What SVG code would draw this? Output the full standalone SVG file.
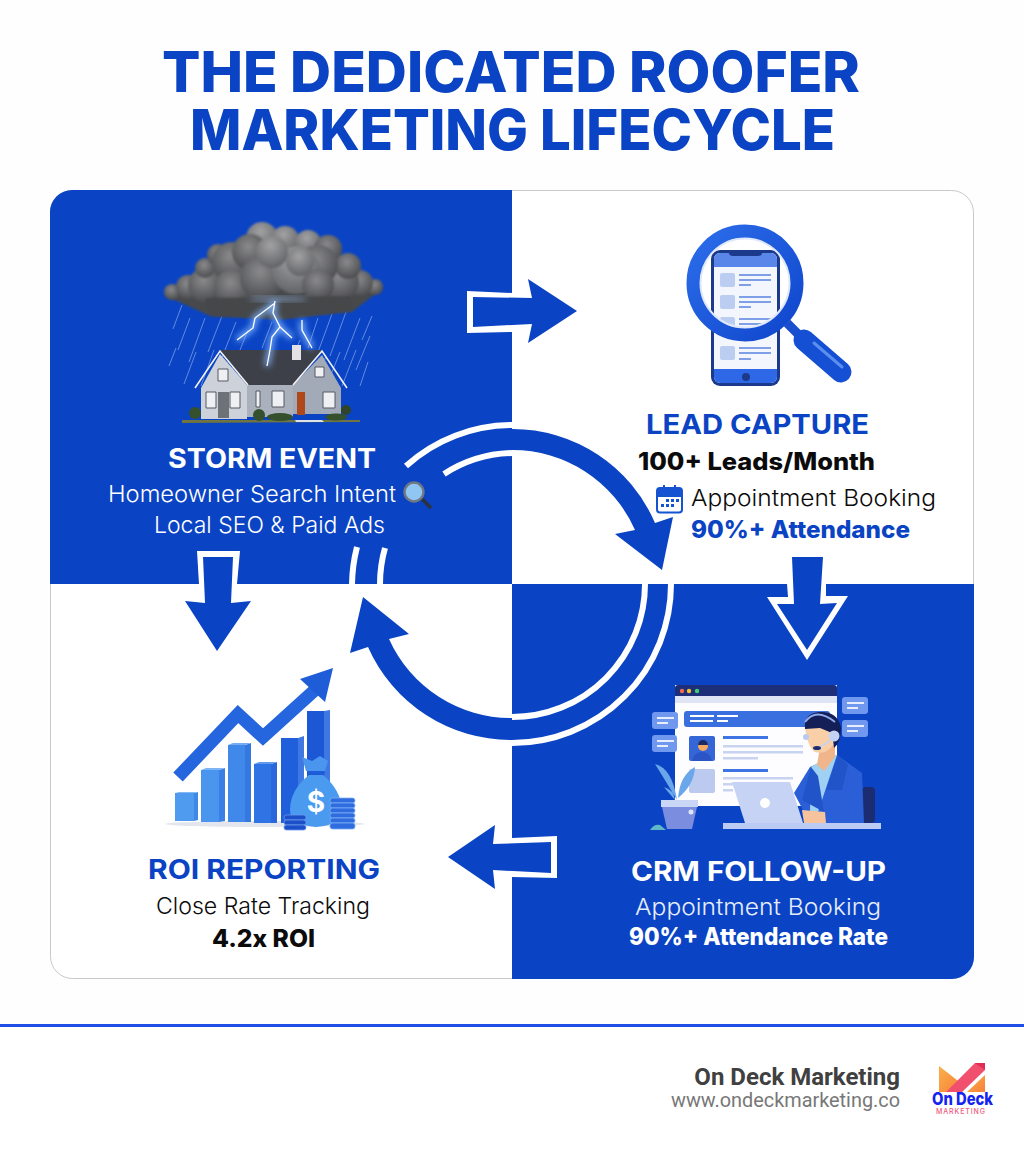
<svg xmlns="http://www.w3.org/2000/svg" width="1024" height="1154" viewBox="0 0 1024 1154">
<style>
text{font-family:"Inter","Liberation Sans",sans-serif}
.b{fill:#0a44c4}.w{fill:#fff}.k{fill:#0b0b0b}
.t{font-size:57px;font-weight:800;fill:#0a44c4}
.h{font-size:27px;font-weight:700}
.s{font-size:23px;font-weight:300}
.v{font-size:24px;font-weight:800}
.ol{fill:none;stroke:#fff;stroke-width:6}
.ft{font-family:"Roboto","Liberation Sans",sans-serif}
</style>
<defs>
<radialGradient id="puff" cx="45%" cy="35%" r="65%"><stop offset="0" stop-color="#8a8a8c"/><stop offset="1" stop-color="#4c4d50"/></radialGradient>
<radialGradient id="puffL" cx="45%" cy="30%" r="70%"><stop offset="0" stop-color="#a2a2a4"/><stop offset="1" stop-color="#626366"/></radialGradient>
<linearGradient id="ring" x1="0" y1="0" x2="1" y2="1"><stop offset="0" stop-color="#2c6dea"/><stop offset="1" stop-color="#0f46cc"/></linearGradient>
<linearGradient id="lg" x1="0" y1="0" x2="1" y2="1"><stop offset="0" stop-color="#f9b14a"/><stop offset="1" stop-color="#f7803a"/></linearGradient>
<filter id="soft" x="-10%" y="-10%" width="120%" height="120%"><feGaussianBlur stdDeviation="1"/></filter>
<filter id="glow" x="-40%" y="-40%" width="180%" height="180%"><feGaussianBlur stdDeviation="3"/></filter>
</defs>
<rect width="1024" height="1154" fill="#fefefe"/>
<g id="title">
<text class="t"><tspan x="162" y="92" textLength="698" lengthAdjust="spacingAndGlyphs">THE DEDICATED ROOFER</tspan><tspan x="190" y="150" textLength="645" lengthAdjust="spacingAndGlyphs">MARKETING LIFECYCLE</tspan></text>
</g>
<g id="panel">
<rect x="50.5" y="190.5" width="923" height="788" rx="22" fill="#fff" stroke="#c9c9c9"/>
<path class="b" d="M50,584V212A22 22 0 0 1 72,190H512V584Z"/>
<path class="b" d="M512,584H974V957A22 22 0 0 1 952,979H512Z"/>
</g>
<g id="connectors">
<path class="w" d="M467,291L512,293V332L467,333Z"/>
<path class="b" d="M473,297L532,298L528,279L577,311L528,343L532,324L473,327Z"/>
<path class="w" d="M787,584L788,597L767,597L807,660L848,596L826,596L826,584Z"/>
<path class="b" d="M792,557H823L820,604L837,603L807,650L777,604L794,604Z"/>
<path class="w" d="M197,551H240L237,584H199Z"/>
<path class="b" d="M203,557H233L231,603L251,601L217,651L185,601L205,603Z"/>
<path class="w" d="M557,836L512,838V877L557,878Z"/>
<path class="b" d="M551,842L493,844L495,825L448,857L495,889L493,870L551,873Z"/>
<path class="ol" d="M406,466A159 159 0 0 1 512,425"/>
<path class="ol" d="M444,474A131 131 0 0 1 512,453"/>
<path class="b" d="M512,429A155 155 0 0 1 655,523L673,517L662,570L615,534L635,530A134 134 0 0 0 512,450Z"/>
<path class="ol" d="M671,584A159 159 0 0 1 512,743"/>
<path class="ol" d="M645,584A133 133 0 0 1 512,717"/>
<path class="b" d="M512,740A156 156 0 0 1 368,647L350,653L363,597L409,634L389,639A134 134 0 0 0 512,718Z"/>
<path class="ol" d="M352,584A160 160 0 0 1 357,547"/>
<path class="ol" d="M380,584A132 132 0 0 1 385,548"/>
</g>
<g id="storm-event">
<g id="storm-art">
<path d="M182,305l-9,24M190,318l-12,32M205,318l-16,44M222,316l-14,36M236,322l-15,38M248,330l-16,40M176,348l-7,18M196,352l-12,32M214,350l-13,36M228,362l-9,24M318,318l-10,30M332,314l-14,38M346,312l-16,44M360,318l-16,42M372,316l-10,24M310,350l-10,26M326,356l-9,26M340,352l-12,30M356,350l-14,36M370,336l-14,34M368,362l-8,24M272,322l-10,26M248,364l-6,16M300,340l-6,14" fill="none" stroke="#cfe0ff" stroke-opacity=".5" stroke-width=".9"/>
<path d="M164,295L190,282L340,262L383,288L352,312L280,319L210,316Z" fill="#47484c" filter="url(#soft)"/>
<g filter="url(#soft)">
<circle cx="172" cy="292" r="8" fill="url(#puff)"/><circle cx="188" cy="287" r="12" fill="url(#puff)"/><circle cx="205" cy="285" r="17" fill="url(#puff)"/><circle cx="375" cy="287" r="8" fill="url(#puff)"/><circle cx="360" cy="283" r="13" fill="url(#puff)"/><circle cx="340" cy="282" r="19" fill="url(#puff)"/>
<circle cx="205" cy="268" r="10" fill="url(#puff)"/><circle cx="218" cy="255" r="11" fill="url(#puff)"/><circle cx="232" cy="262" r="20" fill="url(#puff)"/><circle cx="262" cy="238" r="16" fill="url(#puffL)"/><circle cx="250" cy="252" r="18" fill="url(#puff)"/><circle cx="285" cy="240" r="14" fill="url(#puffL)"/><circle cx="308" cy="243" r="13" fill="url(#puffL)"/><circle cx="328" cy="249" r="14" fill="url(#puff)"/><circle cx="348" cy="266" r="13" fill="url(#puff)"/><circle cx="318" cy="265" r="20" fill="url(#puff)"/>
<circle cx="232" cy="288" r="18" fill="url(#puff)"/><circle cx="262" cy="278" r="22" fill="url(#puff)"/><circle cx="296" cy="270" r="24" fill="url(#puffL)"/><circle cx="318" cy="285" r="16" fill="url(#puff)"/><circle cx="272" cy="252" r="16" fill="url(#puffL)"/>
<circle cx="300" cy="262" r="14" fill="url(#puffL)"/>
<path d="M205,298L350,296L352,310L285,319L212,316Z" fill="#45464a"/>
</g>
<ellipse cx="278" cy="299" rx="30" ry="2" fill="#9fc0f0" opacity=".7" filter="url(#glow)"/>
<path d="M182,420H360V422L182,423Z" fill="#6f7440"/>
<path d="M201,388L220,354L247,385V419H201Z" fill="#cdd2da"/>
<path d="M293,385L322,355L341,388V414H293Z" fill="#a2aab8"/>
<path d="M247,385H293V417H247Z" fill="#aab1bd"/>
<path d="M220,350L322,350L293,385L247,385Z" fill="#3d4048"/>
<path d="M292,345H301V360H292Z" fill="#e3e3e6"/>
<path d="M195,388L220,351L248,385M293,385L322,351L347,388" fill="none" stroke="#f2f2f4" stroke-width="1.6"/>
<path d="M218,392H229V418H218Z" fill="#6d7178"/><path d="M297,392H305V415H297Z" fill="#b0481c"/>
<path d="M206,392H216V408H206ZM230,392H240V408H230ZM272,391H284V407H272ZM256,391H260V407H256ZM323,392H335V408H323ZM218,369H228V381H218ZM315,367H324V377H315Z" fill="#eef0f3" stroke="#555962" stroke-width="1"/>
<circle cx="195" cy="413" r="6" fill="#35502c"/><circle cx="259" cy="415" r="6" fill="#35502c"/><ellipse cx="280" cy="417" rx="13" ry="4" fill="#35502c"/><ellipse cx="336" cy="417" rx="11" ry="3.500" fill="#35502c"/><circle cx="346" cy="410" r="5" fill="#2f4429"/>
<path d="M295,420H322L324,422H296Z" fill="#dfe3e8"/>
<path d="M275,301L273,313L280,327L272,337L270,350L267,366M275,303L255,318L253,328L237,340M280,327L292,338M302,320L302,330L312,348" fill="none" stroke="#7fb4ff" stroke-width="5" filter="url(#glow)"/>
<path d="M275,301L273,313L280,327L272,337L270,350L267,366M275,303L255,318L253,328L237,340M280,327L292,338M302,320L302,330L312,348" fill="none" stroke="#fff" stroke-width="1.3"/>
</g>
<text class="h w" x="168" y="468" textLength="208" lengthAdjust="spacingAndGlyphs">STORM EVENT</text>
<text class="s w" x="108" y="502" textLength="288" lengthAdjust="spacingAndGlyphs">Homeowner Search Intent</text>
<g id="glass"><path d="M422,499L430,507" stroke="#2c3340" stroke-width="3.500" stroke-linecap="round"/><circle cx="414" cy="492" r="9.500" fill="#90c6f2" stroke="#6f7882" stroke-width="2.400"/></g>
<text class="s w" x="154" y="533" textLength="231" lengthAdjust="spacingAndGlyphs">Local SEO &amp; Paid Ads</text>
</g>
<g id="lead-capture">
<g id="phone-art">
<rect x="711" y="250" width="69" height="136" rx="9" fill="#1c3a8c"/>
<rect x="714" y="253" width="63" height="130" rx="6" fill="#f3f6fd"/>
<path d="M714,267V259A6 6 0 0 1 720,253H771A6 6 0 0 1 777,259V267Z" fill="#5a86ea"/>
<path d="M729,251H762V253Q762,256 758,256H733Q729,256 729,253Z" fill="#1c3a8c"/>
<path d="M714,369H777V377A6 6 0 0 1 771,383H720A6 6 0 0 1 714,377Z" fill="#2f68e6"/>
<circle cx="746" cy="377" r="4" fill="#1c3a8c"/>
<g fill="#bccdf2"><rect x="720" y="273" width="15" height="14" rx="2"/><rect x="720" y="295" width="15" height="14" rx="2"/><rect x="720" y="317" width="15" height="14" rx="2"/><rect x="720" y="346" width="15" height="14" rx="2"/></g>
<g fill="#7f9fe6"><path d="M739,274h32v2h-32zM739,279h32v2h-32zM739,284h12v2h-12zM739,296h32v2h-32zM739,301h32v2h-32zM739,306h12v2h-12zM739,318h32v2h-32zM739,323h32v2h-32zM739,347h32v2h-32zM739,352h32v2h-32zM739,358h12v2h-12z"/></g>
<path d="M787,323L799,335" stroke="#1a4fd0" stroke-width="9"/>
<path d="M804,340L841,372" stroke="#1550d4" stroke-width="21" stroke-linecap="round"/>
<path d="M814,343L842,367" stroke="#5a8ff0" stroke-width="3" stroke-linecap="round"/>
<circle cx="745" cy="283" r="45" fill="none" stroke="#dfe8fb" stroke-width="3"/>
<circle cx="745" cy="283" r="52" fill="none" stroke="url(#ring)" stroke-width="13"/>
</g>
<text class="h b" x="646" y="434" textLength="223" lengthAdjust="spacingAndGlyphs">LEAD CAPTURE</text>
<text class="v k" x="638" y="470" textLength="237" lengthAdjust="spacingAndGlyphs">100+ Leads/Month</text>
<g id="calendar">
<rect x="657" y="488" width="25" height="24.500" rx="3" fill="#fff" stroke="#1553d0" stroke-width="2"/>
<path d="M657,497V491A3 3 0 0 1 660,488H679A3 3 0 0 1 682,491V497Z" fill="#1553d0"/>
<path d="M664,485V491M675,485V491" stroke="#1553d0" stroke-width="2"/>
<g fill="#1553d0"><rect x="666" y="499" width="3" height="3"/><rect x="671" y="499" width="3" height="3"/><rect x="676" y="499" width="3" height="3"/><rect x="661" y="504" width="3" height="3"/><rect x="666" y="504" width="3" height="3"/><rect x="671" y="504" width="3" height="3"/></g>
</g>
<text class="s k" x="691" y="506" textLength="245" lengthAdjust="spacingAndGlyphs">Appointment Booking</text>
<text class="v b" x="691" y="538" textLength="219" lengthAdjust="spacingAndGlyphs">90%+ Attendance</text>
</g>
<g id="crm-follow-up">
<g id="crm-art">
<rect x="675" y="685" width="162" height="121" fill="#fdfdff"/>
<path d="M675,696V688A3 3 0 0 1 678,685H834A3 3 0 0 1 837,688V696Z" fill="#1e2f7a"/>
<rect x="675" y="696" width="162" height="7" fill="#dfe5f5"/>
<circle cx="682" cy="691" r="2.200" fill="#f06a50"/><circle cx="689" cy="691" r="2.200" fill="#f5c030"/><circle cx="697" cy="691" r="2.200" fill="#3fd070"/>
<rect x="684" y="711" width="146" height="16" rx="3" fill="#3a6fe0"/>
<path d="M690,715h24v2h-24zM717,715h21v2h-21zM690,720h23v2h-23zM717,720h11v2h-11z" fill="#fff"/>
<rect x="689" y="736" width="26" height="25" rx="2" fill="#3566d8"/>
<path d="M692,761Q694,752 702,752Q710,752 712,761Z" fill="#2b55c4"/><circle cx="703" cy="746" r="5" fill="#f4a860"/><path d="M698,745A5 5 0 0 1 708,745Z" fill="#1d2a60"/>
<rect x="689" y="769" width="26" height="24" rx="2" fill="#bccaf0"/>
<path d="M723,736h45v3h-45z" fill="#3f74e4"/><path d="M723,745h80v2.500h-80zM723,751h80v2.500h-80zM723,757h35v2.500h-35z" fill="#c8d3f0"/>
<path d="M723,769h45v3h-45z" fill="#3f74e4"/><path d="M723,777h70v2.500h-70zM723,783h10v2.500h-10zM723,789h10v2.500h-10z" fill="#c8d3f0"/>
<g fill="#7098ee"><rect x="652" y="712" width="26" height="17" rx="3"/><rect x="652" y="735" width="25" height="17" rx="3"/><rect x="842" y="697" width="26" height="17" rx="3"/><rect x="842" y="720" width="26" height="17" rx="3"/></g>
<path d="M657,717h17v2h-17zM657,722h11v2h-11zM657,740h17v2h-17zM657,745h11v2h-11zM847,702h17v2h-17zM847,707h11v2h-11zM847,725h17v2h-17zM847,730h11v2h-11z" fill="#e8eefc"/>
<rect x="862" y="787" width="13" height="36" rx="4" fill="#1c2c70"/>
<path d="M794,793L810,767L837,755L862,773L864,823H810Z" fill="#2a5fd8"/>
<path d="M811,767L827,757L837,755L818,812H810Z" fill="#9fd2f2"/>
<path d="M811,767L818,776L824,812L802,800ZM838,755L826,790L842,790L848,765Z" fill="#2054c8"/>
<path d="M819,753L817,765L824,771L835,757V745H820Z" fill="#f1b58c"/>
<path d="M805,728H832L833,745Q826,755 815,752Q808,748 805,728Z" fill="#f9cfa8"/>
<path d="M805,729Q803,714 819,712Q838,711 841,728Q841,742 834,748L832,733L820,728Z" fill="#141f58"/>
<path d="M805,722Q816,707 835,722" fill="none" stroke="#8ea9ea" stroke-width="2"/>
<circle cx="834" cy="736" r="5.500" fill="#c4d3f5"/><circle cx="806" cy="737" r="3" fill="#b8caf2"/>
<path d="M830,741L818,748" stroke="#c4d3f5" stroke-width="1.500"/><ellipse cx="817" cy="748" rx="4" ry="2" fill="#1c2c70"/>
<path d="M802,810L825,812L826,823H804Z" fill="#f6c39c"/>
<path d="M732,782H790L803,823H745Z" fill="#c7d3f4"/><circle cx="765" cy="803" r="5" fill="#fff"/>
<rect x="723" y="823" width="158" height="6" fill="#bccbf3"/>
<path d="M677,800Q665,780 655,764Q672,768 677,800ZM678,798Q680,775 695,767Q694,785 678,798ZM675,800Q668,792 664,787Q674,790 675,800Z" fill="#69a6ea"/>
<rect x="661" y="800" width="37" height="7" fill="#c9d6f6"/>
<path d="M662,807H697L692,829H667Z" fill="#7b8ddf"/><circle cx="691" cy="812" r="2.500" fill="#dfe6fa"/>
<path d="M650,830Q654,824 660,825L666,830Z" fill="#5fb8c8"/>
</g>
<text class="h w" x="631" y="881" textLength="255" lengthAdjust="spacingAndGlyphs">CRM FOLLOW-UP</text>
<text class="s" fill="#e6edfc" x="635" y="915" textLength="246" lengthAdjust="spacingAndGlyphs">Appointment Booking</text>
<text class="v w" x="629" y="945" textLength="259" lengthAdjust="spacingAndGlyphs">90%+ Attendance Rate</text>
</g>
<g id="roi-reporting">
<g id="roi-art">
<ellipse cx="265" cy="824" rx="100" ry="3" fill="#e3e6ec"/>
<path d="M175,793H194V821H175Z" fill="#4f9bf0"/><path d="M194,793L198,792V820L194,821Z" fill="#3f88e6"/><path d="M175,793L179,792H198L194,793Z" fill="#82b8f5"/>
<path d="M201,770H219V822H201Z" fill="#4a95ee"/><path d="M219,770L225,768V821L219,822Z" fill="#3a80e4"/><path d="M201,770L206,768H225L219,770Z" fill="#7eb3f4"/>
<path d="M228,745H245V822H228Z" fill="#4088ea"/><path d="M245,745L251,743V822H245Z" fill="#3478e2"/><path d="M228,745L233,743H251L245,745Z" fill="#74abf2"/>
<path d="M254,764H271V823H254Z" fill="#2f74e4"/><path d="M271,764L277,762V823H271Z" fill="#2a66dc"/><path d="M254,764L259,762H277L271,764Z" fill="#5f9aee"/>
<path d="M281,738H298V823H281Z" fill="#1f5fdc"/><path d="M298,738L304,736V823H298Z" fill="#3f78e2"/>
<path d="M307,711H324V782H307Z" fill="#1c57d6"/><path d="M324,711L330,710V782H324Z" fill="#3f78e2"/>
<path d="M178,777L238,714L263,737L316,689" fill="none" stroke="#2566de" stroke-width="13"/>
<path d="M300,679L333,668L325,702Z" fill="#1f5cd8"/>
<path d="M302,757L312,761L320,756L328,761L325,771H306Z" fill="#4a95ee"/><rect x="307" y="771" width="18" height="3.500" rx="1.500" fill="#1f5cd8"/>
<path d="M309,775Q290,790 290,810Q290,825 316,827Q342,825 342,810Q341,790 323,775Z" fill="#4a9af0"/>
<text x="316" y="812" font-size="28" font-weight="700" fill="#fff" text-anchor="middle">$</text>
<g fill="#2f6ce0" stroke="#7fb0f5" stroke-width=".8"><rect x="330" y="798" width="25" height="5" rx="2.500"/><rect x="330" y="803" width="25" height="5" rx="2.500"/><rect x="330" y="808" width="25" height="5" rx="2.500"/><rect x="330" y="813" width="25" height="5" rx="2.500"/><rect x="330" y="818" width="25" height="5" rx="2.500"/><rect x="330" y="823" width="25" height="6" rx="2.500"/></g>
<g fill="#1c4fc8" stroke="#6c9bee" stroke-width=".8"><rect x="284" y="815" width="22" height="5" rx="2.500"/><rect x="284" y="820" width="22" height="5" rx="2.500"/><rect x="284" y="825" width="22" height="5" rx="2.500"/></g>
</g>
<text class="h b" x="148" y="879" textLength="232" lengthAdjust="spacingAndGlyphs">ROI REPORTING</text>
<text class="s k" x="156" y="914" textLength="214" lengthAdjust="spacingAndGlyphs">Close Rate Tracking</text>
<text class="v k" x="212" y="947" textLength="103" lengthAdjust="spacingAndGlyphs">4.2x ROI</text>
</g>
<g id="footer">
<rect x="0" y="1024" width="1024" height="3" fill="#1f4fe6"/>
<rect x="0" y="1027" width="1024" height="127" fill="#fff"/>
<text class="ft" x="900" y="1085" text-anchor="end" font-size="24" font-weight="700" fill="#404040">On Deck Marketing</text>
<text class="ft" x="671" y="1107" font-size="19.500" fill="#777" textLength="229" lengthAdjust="spacingAndGlyphs">www.ondeckmarketing.co</text>
<g id="logo">
<path d="M939,1066L962,1084L948,1092H939Z" fill="url(#lg)"/>
<path d="M946,1092L975,1063L985,1063V1070L962,1092Z" fill="#f0506e"/>
<path d="M975,1063H985V1070Z" fill="#e02c58"/>
<path d="M985,1075V1092H967Z" fill="url(#lg)"/>
<text x="932" y="1105" font-size="17" font-weight="800" fill="#1424f0" textLength="61" lengthAdjust="spacingAndGlyphs">On Deck</text>
<text x="936" y="1114" font-size="7" font-weight="500" fill="#ee5a80" textLength="49" lengthAdjust="spacing">MARKETING</text>
</g>
</g>
</svg>
